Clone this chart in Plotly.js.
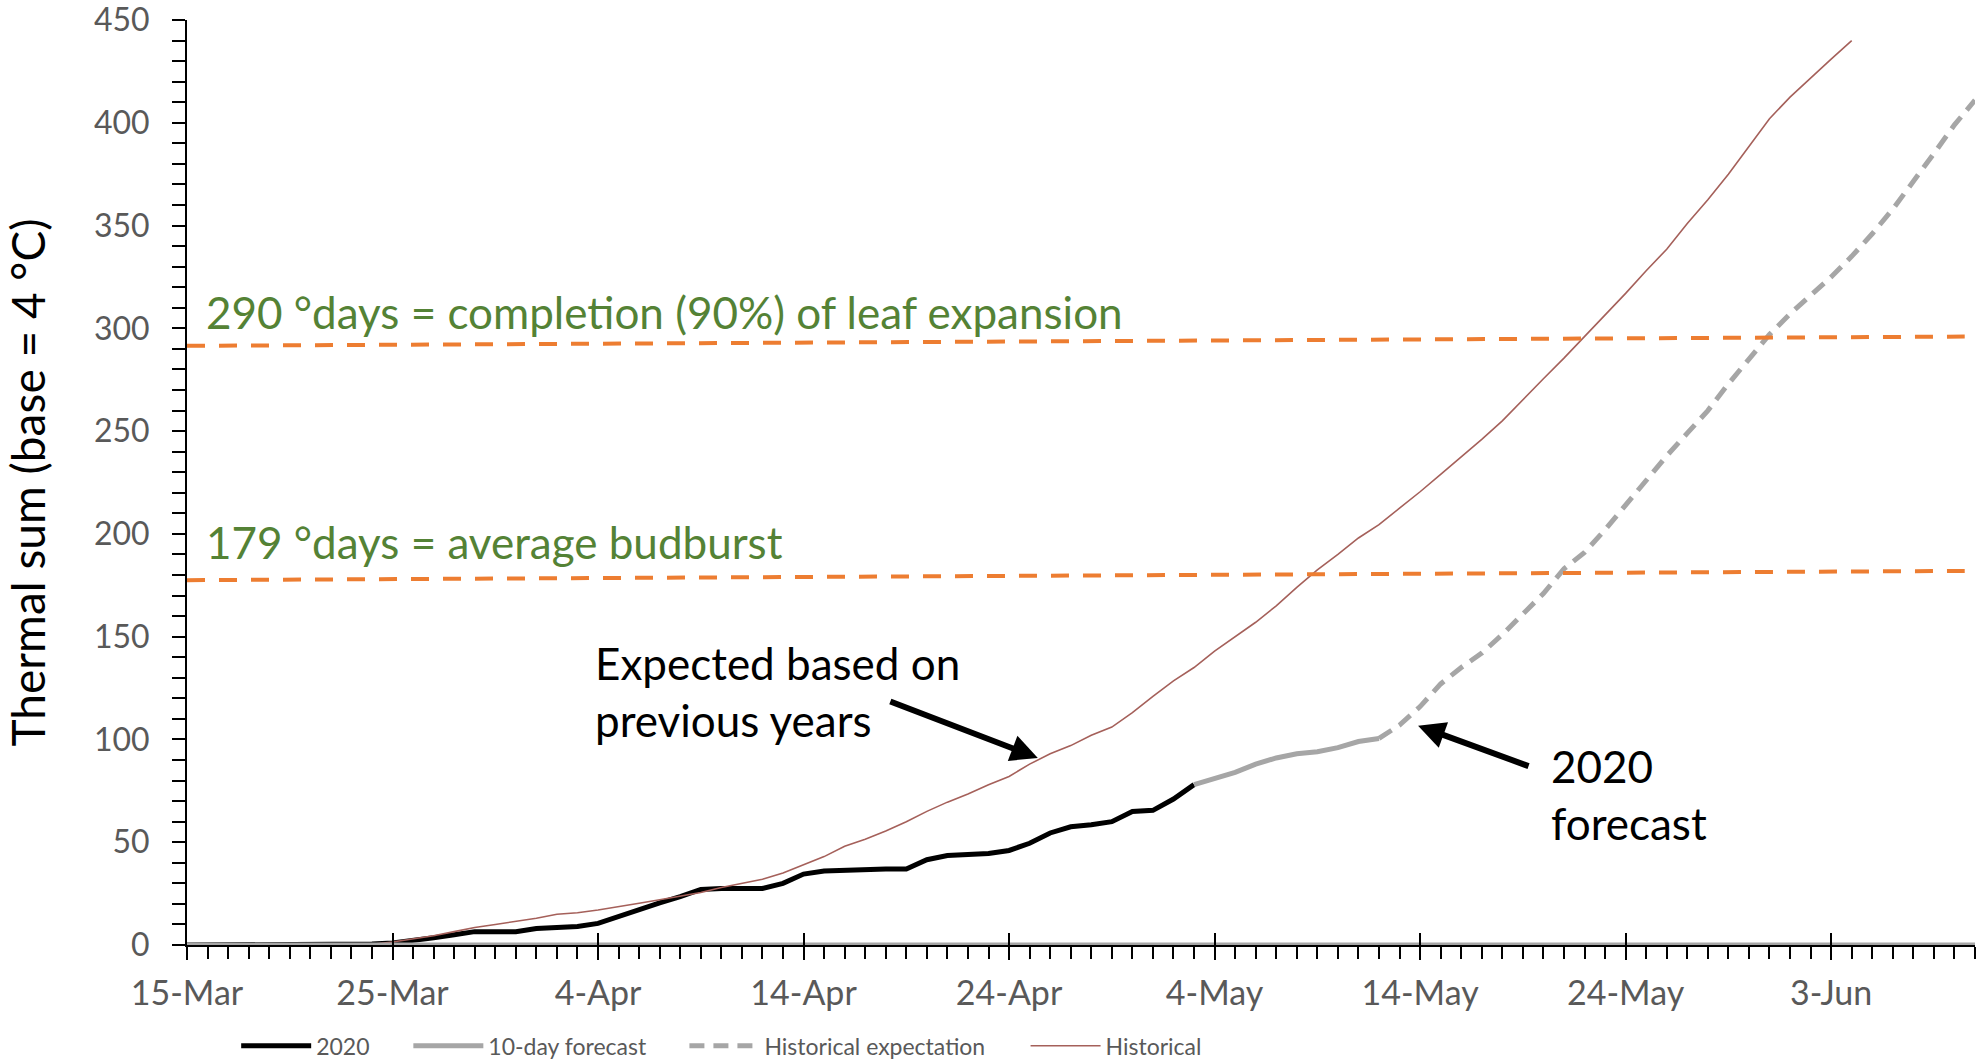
<!DOCTYPE html>
<html><head><meta charset="utf-8">
<script src="https://cdn.plot.ly/plotly-3.0.1.min.js"></script>
<style>html,body{margin:0;padding:0;background:#fff}#chart{width:1988px;height:1061px}</style>
</head><body><div id="chart"></div>
<script>
// Daily dates from 15-Mar to 10-Jun 2020
const dates = [
 '2020-03-15','2020-03-16','2020-03-17','2020-03-18','2020-03-19','2020-03-20','2020-03-21','2020-03-22','2020-03-23','2020-03-24',
 '2020-03-25','2020-03-26','2020-03-27','2020-03-28','2020-03-29','2020-03-30','2020-03-31',
 '2020-04-01','2020-04-02','2020-04-03','2020-04-04','2020-04-05','2020-04-06','2020-04-07','2020-04-08','2020-04-09','2020-04-10',
 '2020-04-11','2020-04-12','2020-04-13','2020-04-14','2020-04-15','2020-04-16','2020-04-17','2020-04-18','2020-04-19','2020-04-20',
 '2020-04-21','2020-04-22','2020-04-23','2020-04-24','2020-04-25','2020-04-26','2020-04-27','2020-04-28','2020-04-29','2020-04-30',
 '2020-05-01','2020-05-02','2020-05-03','2020-05-04','2020-05-05','2020-05-06','2020-05-07','2020-05-08','2020-05-09','2020-05-10',
 '2020-05-11','2020-05-12','2020-05-13','2020-05-14','2020-05-15','2020-05-16','2020-05-17','2020-05-18','2020-05-19','2020-05-20',
 '2020-05-21','2020-05-22','2020-05-23','2020-05-24','2020-05-25','2020-05-26','2020-05-27','2020-05-28','2020-05-29','2020-05-30','2020-05-31',
 '2020-06-01','2020-06-02','2020-06-03','2020-06-04','2020-06-05','2020-06-06','2020-06-07','2020-06-08','2020-06-09','2020-06-10'
];

// 2020 observed thermal sum (15-Mar .. 3-May)
const values2020 = [0,0,0,0,0,0,0,0,0,0.5,1,2,3.5,5,6.5,6.5,6.5,8,8.5,9,10.5,14,17,20.5,23.5,27,27.5,27.5,27.5,30,
  34.5,36,36.5,37,37,37,41.5,43.5,44,44.5,46,49.5,54.5,57.5,58.5,60,65,65.5,71,78];
// 10-day forecast (3-May .. 12-May)
const forecastStart = 49;
const valuesForecast = [78,81,84,88,91,93,94,96,99,100.5];
// Historical expectation (12-May .. 10-Jun)
const expectationStart = 58;
const valuesExpectation = [100.5,107,116,127,135,142,151,161,171,183,191,202,214,226,238,249,260,273,285,297,
  307,316,325,335,346,358,371,385,399,411];
// Historical (15-Mar .. 4-Jun)
const valuesHistorical = [0,0,0,0,0,0,0,0,0,0.3,1.5,3,4.5,6.5,8.5,10,11.5,13,15,15.7,17,18.8,20.3,22,23.6,25.5,28,30,32,35,
  39,43,48,51.5,55.5,60,65,69.5,73.5,78,82,88,93,97,102,106,113,121,128.5,135,143,150,157,165,174,182.5,190,198,204.5,212.5,
  220.5,229,237.5,246,255,265.5,275.5,285.5,296,306,317,328,338.5,351,362.5,375,388.5,402,412.5,422,431,440];
// zero baseline drawn by the forecast series along the axis
const baselineDates = ['2020-03-15','2020-06-10'];
const baselineValues = [0,0];

// axis ticks
const yTicks = [0,50,100,150,200,250,300,350,400,450];

// threshold reference lines (slightly sloped drawn lines)
const thresholdDates = ['2020-03-15','2020-06-09 12:00'];
const leafExpansionLine = [291.5,296];
const budburstLine = [177.5,182];

const FONT = 'Lato, "Open Sans", sans-serif';
const LEGEND_FONT = {family: FONT, size: 23, color: '#595959'};
function legendAt(x) {
  return {orientation: 'h', x: x, xanchor: 'left', y: -0.109, yanchor: 'middle',
    font: LEGEND_FONT, itemwidth: 70, bgcolor: 'rgba(0,0,0,0)'};
}

const traces = [
  {x: dates.slice(0, values2020.length), y: values2020, name: '2020', type: 'scatter', mode: 'lines',
   legend: 'legend', line: {color: '#000000', width: 5}},
  {x: dates.slice(forecastStart, forecastStart + valuesForecast.length), y: valuesForecast, name: '10-day forecast',
   legend: 'legend2', type: 'scatter', mode: 'lines', line: {color: '#a6a6a6', width: 5}},
  {x: baselineDates, y: baselineValues, name: 'baseline', showlegend: false, xaxis: 'x2', type: 'scatter', mode: 'lines',
   line: {color: '#a6a6a6', width: 5}, hoverinfo: 'skip'},
  {x: dates.slice(expectationStart, expectationStart + valuesExpectation.length), y: valuesExpectation,
   name: 'Historical expectation', legend: 'legend3', type: 'scatter', mode: 'lines',
   line: {color: '#a6a6a6', width: 5, dash: '15px,9px'}},
  {x: dates.slice(0, valuesHistorical.length), y: valuesHistorical, name: 'Historical', legend: 'legend4',
   type: 'scatter', mode: 'lines', line: {color: '#a5605a', width: 1.6}}
];

const layout = {
  width: 1988, height: 1061,
  margin: {l: 187, r: 13, t: 20, b: 116, autoexpand: false},
  paper_bgcolor: '#ffffff', plot_bgcolor: '#ffffff',
  font: {family: FONT, color: '#595959'},
  showlegend: true,
  legend: legendAt(0.0275),
  legend2: legendAt(0.1238),
  legend3: legendAt(0.2782),
  legend4: legendAt(0.4690),
  xaxis: {
    type: 'date', range: ['2020-03-15', '2020-06-10'],
    tick0: '2020-03-15', dtick: 864000000, tickformat: '%-d-%b',
    ticks: 'outside', ticklen: 13, tickwidth: 2, tickcolor: '#000',
    minor: {dtick: 86400000, tick0: '2020-03-15', ticks: 'outside', ticklen: 12, tickwidth: 1.6, tickcolor: '#000', showgrid: false},
    showline: true, linecolor: '#000', linewidth: 2, showgrid: false, zeroline: false,
    tickfont: {family: FONT, size: 34, color: '#595959'}, ticklabelstandoff: 4, ticklabeloverflow: 'allow'
  },
  xaxis2: {
    type: 'date', overlaying: 'x', matches: 'x', anchor: 'y', side: 'bottom',
    tick0: '2020-03-15', dtick: 864000000, ticks: 'inside', ticklen: 12, tickwidth: 2, tickcolor: '#000',
    showticklabels: false, showline: false, showgrid: false, zeroline: false
  },
  yaxis: {
    range: [0, 450], tickmode: 'array', tickvals: yTicks, ticktext: yTicks.map(String),
    ticks: 'outside', ticklen: 13, tickwidth: 2, tickcolor: '#000',
    minor: {tick0: 0, dtick: 10, ticks: 'outside', ticklen: 13, tickwidth: 2, tickcolor: '#000', showgrid: false},
    showline: true, linecolor: '#000', linewidth: 2, showgrid: false, zeroline: false,
    tickfont: {family: FONT, size: 32, color: '#595959'}, ticklabelstandoff: 16, ticklabeloverflow: 'allow',
    title: {text: 'Thermal sum (base = 4 °C)', font: {family: FONT, size: 46, color: '#000'}, standoff: 40}
  },
  shapes: [
    {type: 'line', xref: 'x', yref: 'y', x0: thresholdDates[0], x1: thresholdDates[1], y0: leafExpansionLine[0], y1: leafExpansionLine[1],
     line: {color: '#ed7d31', width: 4, dash: '18px,14px'}},
    {type: 'line', xref: 'x', yref: 'y', x0: thresholdDates[0], x1: thresholdDates[1], y0: budburstLine[0], y1: budburstLine[1],
     line: {color: '#ed7d31', width: 4, dash: '18px,14px'}}
  ],
  annotations: [
    {xref: 'paper', yref: 'paper', x: 0.0095, y: 0.684, xanchor: 'left', yanchor: 'middle', showarrow: false,
     text: '290 °days = completion (90%) of leaf expansion', font: {family: FONT, size: 44, color: '#548235'}},
    {xref: 'paper', yref: 'paper', x: 0.0095, y: 0.436, xanchor: 'left', yanchor: 'middle', showarrow: false,
     text: '179 °days = average budburst', font: {family: FONT, size: 44, color: '#548235'}},
    {xref: 'paper', yref: 'paper', x: 0.227, y: 0.274, xanchor: 'left', yanchor: 'middle', align: 'left', showarrow: false,
     text: 'Expected based on<br>previous years', font: {family: FONT, size: 44, color: '#000'}},
    {xref: 'paper', yref: 'paper', x: 0.7617, y: 0.163, xanchor: 'left', yanchor: 'middle', align: 'left', showarrow: false,
     text: '2020<br>forecast', font: {family: FONT, size: 44, color: '#000'}},
    {xref: 'x', yref: 'y', x: '2020-04-25 09:36', y: 91, ax: -149, ay: -57, axref: 'pixel', ayref: 'pixel',
     text: '', showarrow: true, arrowhead: 2, arrowsize: 0.9, arrowwidth: 6, arrowcolor: '#000', standoff: 0},
    {xref: 'x', yref: 'y', x: '2020-05-13 21:36', y: 106.7, ax: 112, ay: 41, axref: 'pixel', ayref: 'pixel',
     text: '', showarrow: true, arrowhead: 2, arrowsize: 0.9, arrowwidth: 6, arrowcolor: '#000', standoff: 0}
  ]
};

Plotly.newPlot('chart', traces, layout, {displayModeBar: false, responsive: false});
</script>
</body></html>
